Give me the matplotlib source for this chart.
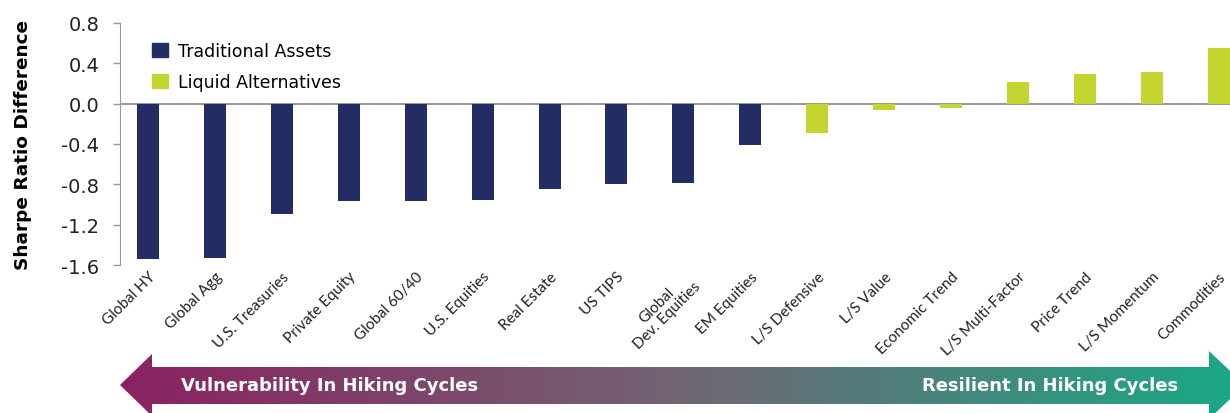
import matplotlib
matplotlib.use("Agg")
import matplotlib.pyplot as plt
import numpy as np
from matplotlib.patches import Polygon, Patch
from matplotlib.colors import LinearSegmentedColormap

categories = ["Global HY", "Global Agg", "U.S. Treasuries", "Private Equity", "Global 60/40",
              "U.S. Equities", "Real Estate", "US TIPS", "Global\nDev. Equities", "EM Equities",
              "L/S Defensive", "L/S Value", "Economic Trend", "L/S Multi-Factor", "Price Trend",
              "L/S Momentum", "Commodities"]
values = [-1.54, -1.53, -1.09, -0.97, -0.97, -0.96, -0.85, -0.80, -0.79, -0.41,
          -0.29, -0.06, -0.04, 0.21, 0.29, 0.31, 0.55]
groups = ["trad"] * 10 + ["alt"] * 7
yticks = [0.8, 0.4, 0.0, -0.4, -0.8, -1.2, -1.6]

navy = "#232C63"
lime = "#C3D52E"
colors = [navy if g == "trad" else lime for g in groups]

fig = plt.figure(figsize=(12.3, 4.14), dpi=100)
ax = fig.add_axes([120/1230, 1-266/414, 1-120/1230, (266-24)/414])

x = np.arange(len(categories))
ax.bar(x, values, width=0.33, color=colors, zorder=3)
ax.axhline(0, color="#999999", lw=1.5, zorder=2)

ax.set_xlim(-0.42, len(categories) - 1 + 0.17)
ax.set_ylim(-1.6, 0.8)
ax.set_yticks(yticks)
ax.set_yticklabels([f"{v:.1f}" for v in yticks], fontsize=14, color="#222222")
ax.tick_params(axis="y", length=5, color="#999999", width=1, pad=10)
ax.tick_params(axis="x", length=0, pad=3)
ax.set_xticks(x)
ax.set_xticklabels(categories, rotation=45, ha="right", rotation_mode="anchor",
                   fontsize=11, family="Lato", color="#222222",
                   linespacing=1.0, multialignment="center")
ax.set_ylabel("Sharpe Ratio Difference", fontsize=13.3, fontweight="bold")
ax.yaxis.set_label_coords(-0.079, 0.5)
for s in ["top", "right", "bottom"]:
    ax.spines[s].set_visible(False)
ax.spines["left"].set_color("#999999")

handles = [Patch(color=navy, label="Traditional Assets"), Patch(color=lime, label="Liquid Alternatives")]
ax.legend(handles=handles, loc="upper left", bbox_to_anchor=(0.015, 0.987), frameon=False,
          fontsize=12.5, handlelength=0.9, handleheight=0.9, handletextpad=0.6, labelspacing=0.75)

# gradient arrow along the bottom
ov = fig.add_axes([0, 0, 1, 1])
ov.set_xlim(0, 1230)
ov.set_ylim(414, 0)
ov.axis("off")
cmap = LinearSegmentedColormap.from_list("arr", ["#8A2262", "#726473", "#1BA886"])
grad = np.linspace(0, 1, 512).reshape(1, -1)
im = ov.imshow(grad, cmap=cmap, extent=[120, 1232, 416, 350], aspect="auto", zorder=1)
pts = [(120, 386), (152, 355), (152, 368), (1209, 368), (1209, 352), (1245, 386),
       (1209, 420), (1209, 405), (152, 405), (152, 417)]
poly = Polygon(pts, closed=True, facecolor="none", edgecolor="none", transform=ov.transData)
ov.add_patch(poly)
im.set_clip_path(poly)
ov.text(181, 386, "Vulnerability In Hiking Cycles", color="white", fontsize=13, fontweight="bold",
        va="center", ha="left")
ov.text(1178, 386, "Resilient In Hiking Cycles", color="white", fontsize=13, fontweight="bold",
        va="center", ha="right")

fig.savefig("out.png", dpi=100)
